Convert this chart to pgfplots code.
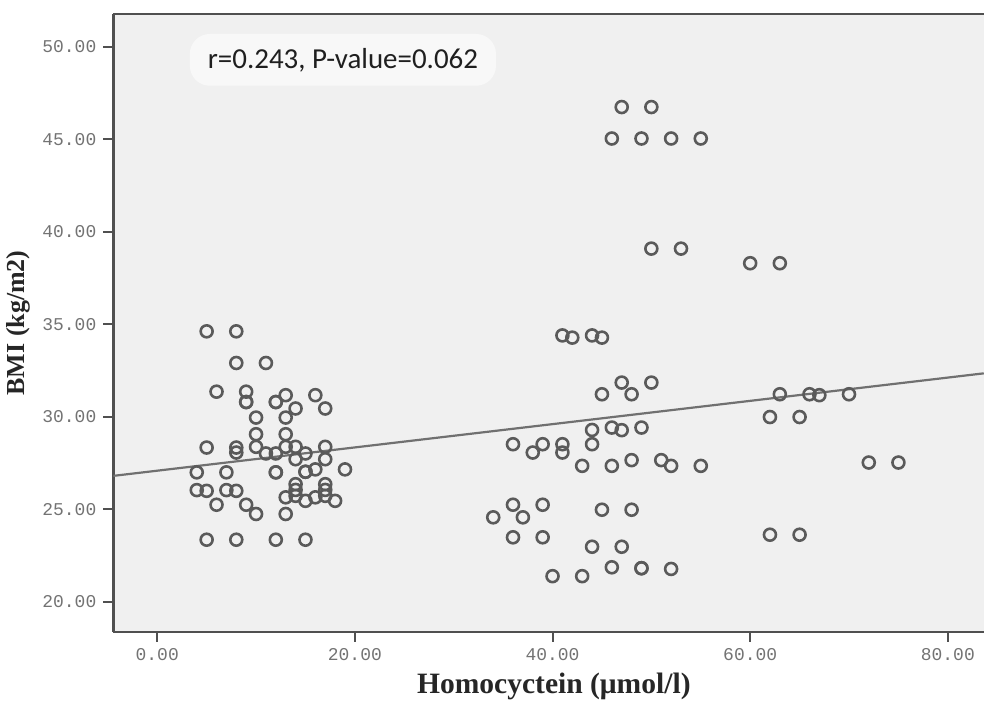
\documentclass[border=0pt]{standalone}
\usepackage{pgfplots}
\pgfplotsset{compat=1.18}
\usepackage{fontspec}
\setmainfont{Liberation Serif}
\newfontfamily\tickfont{Liberation Mono}
\newfontfamily\notefont{Carlito}

\definecolor{bgc}{HTML}{F0F0F0}
\definecolor{axisc}{HTML}{505050}
\definecolor{markc}{HTML}{5A5A5A}
\definecolor{fitc}{HTML}{707070}

% BMI vs homocysteine
\pgfplotstableread{
x y
5 34.62
8 34.62
8 32.91
11 32.91
6 31.36
9 31.36
9 30.80
9 30.80
12 30.80
12 30.80
13 31.17
16 31.17
14 30.45
17 30.45
10 29.96
13 29.96
10 29.06
13 29.06
5 28.34
8 28.34
8 28.07
10 28.38
11 28.02
12 28.02
13 28.38
14 28.38
15 28.02
14 27.71
17 28.38
17 27.71
19 27.16
16 27.16
15 27.03
15 27.03
12 27.00
12 27.00
4 27.00
7 27.00
4 26.04
5 26.00
7 26.04
8 26.00
6 25.25
9 25.25
10 24.75
13 24.75
14 26.36
14 26.05
14 25.73
13 25.65
15 25.46
16 25.65
17 26.36
17 26.05
17 25.73
18 25.46
5 23.36
8 23.36
12 23.36
15 23.36
41 34.40
42 34.28
44 34.40
45 34.28
47 31.85
50 31.85
45 31.22
48 31.22
44 29.29
46 29.42
47 29.28
49 29.42
44 28.52
36 28.52
39 28.52
38 28.07
41 28.52
41 28.07
43 27.35
46 27.35
48 27.66
51 27.66
52 27.35
55 27.35
36 25.25
39 25.25
34 24.57
37 24.57
45 24.98
48 24.98
36 23.49
39 23.49
44 22.98
47 22.98
40 21.39
43 21.39
46 21.87
49 21.82
49 21.82
52 21.78
63 31.22
66 31.22
67 31.17
70 31.22
62 29.99
65 29.99
72 27.53
75 27.53
62 23.63
65 23.63
47 46.74
50 46.74
46 45.04
49 45.04
52 45.04
55 45.04
50 39.09
53 39.09
60 38.30
63 38.30
}\bmidata

\begin{document}
\begin{tikzpicture}
\begin{axis}[
    scale only axis,
    width=436pt, height=309.5pt,
    xmin=-4.44, xmax=83.64,
    ymin=18.38, ymax=51.77,
    axis background/.style={fill=bgc},
    axis x line=box, axis y line=left,
    axis line style={-, draw=axisc, line width=1.2pt},
    xtick={0,20,40,60,80},
    ytick={20,25,30,35,40,45,50},
    xtick pos=bottom, ytick pos=left,
    tick align=outside,
    major tick length=5pt,
    tick style={draw=axisc, line width=1pt},
    /pgf/number format/.cd, fixed, fixed zerofill, precision=2, assume math mode=true,
    /pgfplots/.cd,
    tick label style={font=\tickfont\fontsize{9}{9}\selectfont, text=black!55},
    xlabel={Homocyctein (μmol/l)},
    ylabel={BMI (kg/m2)},
    xlabel style={at={(axis description cs:0.506,0)}, anchor=center, yshift=-27.5pt,
        font=\bfseries\fontsize{14.8}{14.8}\selectfont, text=black!85},
    ylabel style={at={(axis description cs:0,0.5)}, anchor=center, yshift=47.5pt,
        font=\bfseries\fontsize{13}{13}\selectfont, text=black!85},
]
\addplot[draw=fitc, line width=1.1pt] coordinates {(-4.44,26.81) (83.64,32.35)};
\addplot[only marks, mark=o, mark size=3pt,
    mark options={draw=markc, line width=1.3pt}] table[x=x, y=y] {\bmidata};
\node[fill=white, fill opacity=0.55, text opacity=1, rounded corners=10pt,
    inner xsep=9pt, inner ysep=7pt, text=black!88,
    font=\notefont\fontsize{14.5}{14.5}\selectfont] at (axis cs:18.79,49.29) {r=0.243, P-value=0.062};
\end{axis}
\path (current axis.south west) +(-56.5pt,-34.5pt) (current axis.north east) +(0,7pt);
\end{tikzpicture}
\end{document}
